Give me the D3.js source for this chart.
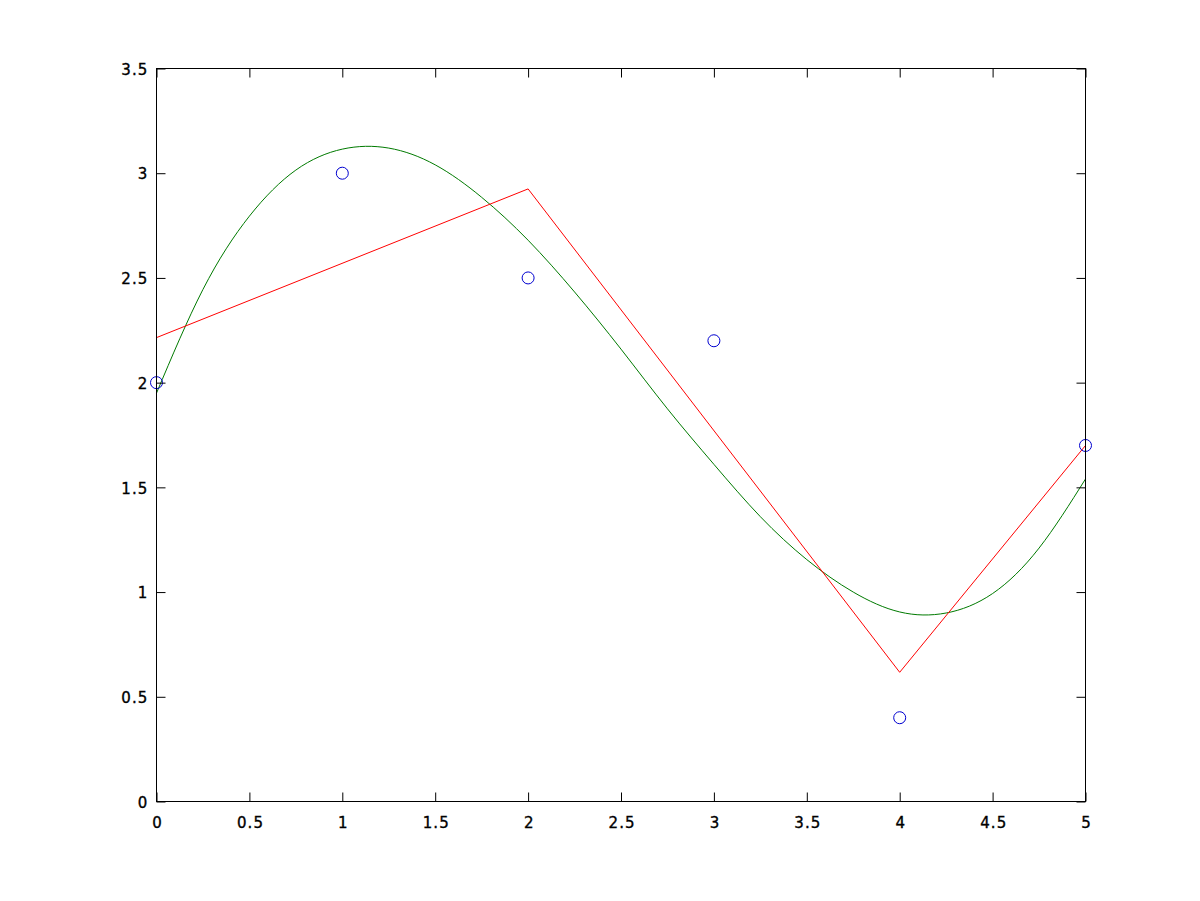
<!DOCTYPE html>
<html>
<head>
<meta charset="utf-8">
<script src="https://cdn.jsdelivr.net/npm/d3@7"></script>
<style>
  html, body { margin: 0; padding: 0; background: #fff; }
  svg { display: block; }
  text { font-family: "DejaVu Sans", "Liberation Sans", Arial, sans-serif; }
</style>
</head>
<body>
<svg id="chart" width="1200" height="901"></svg>
<script>
// ---- data ----
const pointX = [0, 1, 2, 3, 4, 5];
const pointY = [2, 3, 2.5, 2.2, 0.4, 1.7];

const redX = [0, 2, 4, 5];
const redY = [2.215, 2.925, 0.617, 1.70];

const greenX = [0, 0.25, 0.5, 0.75, 1.0, 1.25, 1.5, 1.75, 2.0, 2.25, 2.5, 2.75, 3.0, 3.25, 3.5, 3.75, 4.0, 4.25, 4.5, 4.75, 5.0];
const greenY = [1.95, 2.445, 2.795, 3.015, 3.115, 3.12, 3.04, 2.885, 2.68, 2.433, 2.16, 1.875, 1.61, 1.36, 1.155, 1.0, 0.905, 0.9, 0.993, 1.21, 1.54];

const xTicks = [0, 0.5, 1, 1.5, 2, 2.5, 3, 3.5, 4, 4.5, 5];
const yTicks = [0, 0.5, 1, 1.5, 2, 2.5, 3, 3.5];

// ---- layout ----
const padL = 156.5, padR = 1085.5, padT = 68.5, padB = 801.5;
const svg = d3.select("#chart");
const x = d3.scaleLinear().domain([0, 5]).range([padL, padR]);
const y = d3.scaleLinear().domain([0, 3.5]).range([padB, padT]);
const tickLen = 9;

const g = svg.append("g");

const line = d3.line().x(d => x(d[0])).y(d => y(d[1]));
const lineSmooth = d3.line().x(d => x(d[0])).y(d => y(d[1])).curve(d3.curveNatural);

g.append("path")
  .datum(greenX.map((v, i) => [v, greenY[i]]))
  .attr("d", lineSmooth)
  .attr("fill", "none")
  .attr("stroke", "#007a00")
  .attr("stroke-width", 1);

g.append("path")
  .datum(redX.map((v, i) => [v, redY[i]]))
  .attr("d", line)
  .attr("fill", "none")
  .attr("stroke", "#ff0000")
  .attr("stroke-width", 1);

g.selectAll("circle.pt")
  .data(pointX.map((v, i) => [v, pointY[i]]))
  .enter().append("circle")
  .attr("class", "pt")
  .attr("cx", d => x(d[0]))
  .attr("cy", d => y(d[1]))
  .attr("r", 6)
  .attr("fill", "none")
  .attr("stroke", "#0000d0")
  .attr("stroke-width", 1);

// axes (ticks inward, mirrored on all sides)
const fmt = d => d3.format("")(d);
const axB = d3.axisBottom(x).tickValues(xTicks).tickSize(tickLen).tickFormat(fmt);
const axT = d3.axisTop(x).tickValues(xTicks).tickSize(tickLen).tickFormat("");
const axL = d3.axisLeft(y).tickValues(yTicks).tickSize(tickLen).tickFormat(fmt);
const axR = d3.axisRight(y).tickValues(yTicks).tickSize(tickLen).tickFormat("");

function style(sel) {
  sel.select(".domain").remove();
  sel.attr("font-family", null).attr("font-size", null);
  sel.selectAll(".tick line").attr("stroke", "#000").attr("stroke-width", 1);
  sel.selectAll("text").attr("fill", "#000")
    .attr("stroke", "#000").attr("stroke-width", 0.35)
    .style("font-family", "'DejaVu Sans', 'Liberation Sans', Arial, sans-serif")
    .style("font-size", "15px").style("letter-spacing", "1.1px");
}

const gb = svg.append("g").attr("transform", `translate(0,${padB})`).call(axB).call(style);
gb.selectAll(".tick line").attr("y2", -tickLen);
gb.selectAll(".tick text").attr("x", 0.6).attr("y", 15).attr("dy", "0.74em");

const gt = svg.append("g").attr("transform", `translate(0,${padT})`).call(axT).call(style);
gt.selectAll(".tick line").attr("y2", tickLen);

const gl = svg.append("g").attr("transform", `translate(${padL},0)`).call(axL).call(style);
gl.selectAll(".tick line").attr("x2", tickLen);
gl.selectAll(".tick text").attr("x", -8).attr("dy", "0.38em");

const gr = svg.append("g").attr("transform", `translate(${padR},0)`).call(axR).call(style);
gr.selectAll(".tick line").attr("x2", -tickLen);

svg.append("rect")
  .attr("x", padL).attr("y", padT)
  .attr("width", padR - padL).attr("height", padB - padT)
  .attr("fill", "none").attr("stroke", "#000").attr("stroke-width", 1);
</script>
</body>
</html>
